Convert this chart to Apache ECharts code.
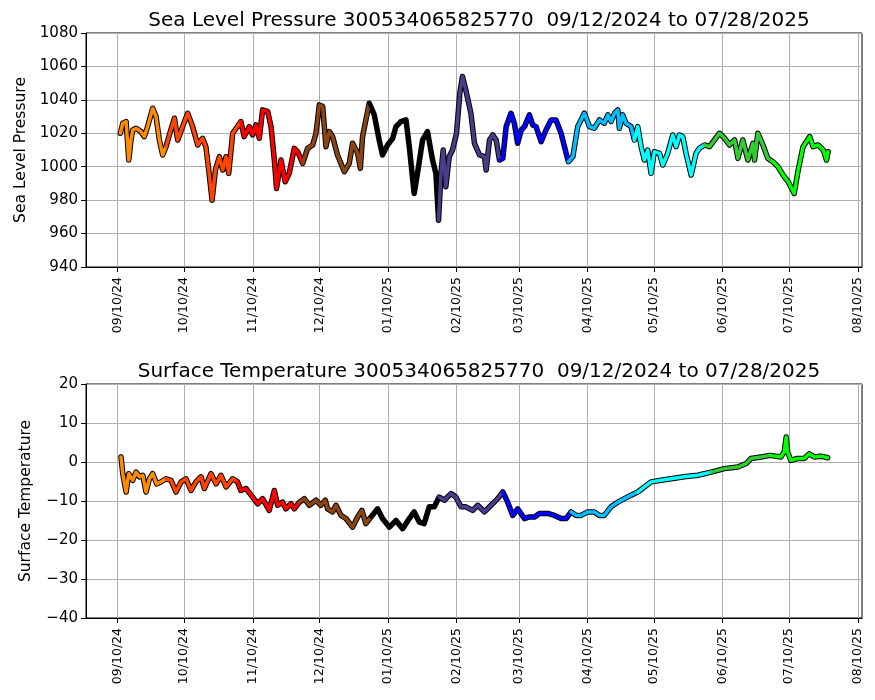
<!DOCTYPE html>
<html><head><meta charset="utf-8">
<script src="https://cdn.jsdelivr.net/npm/echarts@6/dist/echarts.min.js"></script>
<style>html,body{margin:0;padding:0;background:#fff}#c{width:875px;height:700px}</style>
</head><body><div id="c"></div>
<script>
// day offsets from 2024-09-10
const slpDays=[1.2,2.3,3.8,5.0,6.0,6.8,8.3,10.5,12.0,13.5,15.8,17.3,18.8,20.3,21.8,23.3,25.6,27.1,29.3,31.6,33.8,36.1,38.3,39.8,41.1,42.6,44.1,45.9,47.4,48.9,50.1,51.9,55.6,57.1,59.4,60.9,62.4,63.9,65.4,67.7,69.2,70.7,71.7,73.7,75.6,77.4,79.7,81.2,83.5,85.7,88.0,89.5,91.0,92.5,94.0,95.5,97.0,99.2,102.3,104.5,106.0,108.3,109.5,110.5,112.0,113.5,115.8,118.0,119.5,121.8,124.1,125.6,127.8,130.1,131.6,133.8,135.3,137.6,139.8,142.1,143.6,144.8,145.9,146.9,148.1,149.6,151.1,152.9,154.4,155.6,157.1,159.4,161.0,163.3,165.5,166.3,167.8,169.3,170.8,172.3,173.8,175.3,177.5,179.0,180.5,182.1,183.6,185.8,187.3,188.8,191.1,193.3,195.6,197.8,200.1,202.4,203.4,205.4,207.6,210.6,212.9,215.1,217.4,219.6,221.2,222.7,224.2,225.7,226.4,227.9,229.4,231.7,233.2,234.7,236.2,237.7,239.2,240.7,242.2,244.5,246.0,248.2,250.5,252.0,253.5,255.0,256.5,258.8,261.0,262.5,264.8,267.1,269.3,271.6,273.9,276.1,278.4,279.9,282.1,284.4,286.7,287.4,288.9,291.2,293.4,295.7,298.0,300.3,302.6,305.3,307.1,309.3,312.3,313.8,316.1,318.4,319.9,320.6];
const slpVals=[1020,1026,1027,1004,1016,1022,1023,1021,1018,1024,1035,1030,1016,1007,1012,1019,1029,1016,1024,1032,1024,1013,1017,1012,998,980,998,1006,998,1006,996,1020,1027,1018,1024,1019,1025,1017,1034,1033,1024,1004,987,1004,991,996,1011,1009,1002,1011,1013,1020,1037,1036,1012,1021,1018,1007,997,1002,1014,1008,999,1018,1028,1038,1031,1016,1007,1013,1017,1024,1027,1028,1012,984,996,1016,1021,1004,996,968,996,1010,988,1006,1010,1020,1044,1054,1046,1032,1014,1007,1006,998,1016,1019,1016,1004,1005,1024,1032,1026,1014,1022,1024,1031,1025,1024,1015,1022,1028,1028,1020,1008,1003,1006,1024,1032,1024,1023,1028,1026,1031,1027,1032,1034,1023,1031,1026,1024,1016,1024,1012,1004,1010,996,1009,1008,1001,1008,1019,1012,1019,1018,1008,995,1008,1011,1013,1012,1016,1020,1017,1013,1016,1005,1016,1004,1014,1004,1020,1013,1005,1003,1000,995,991,984,998,1012,1018,1012,1013,1010,1004,1009];
const tmpDays=[1.5,2.3,3.8,5.0,6.8,8.3,9.8,11.3,12.8,14.3,15.8,17.6,19.5,21.8,24.1,26.3,28.6,30.8,33.1,35.3,37.6,39.1,42.1,44.4,46.6,48.9,51.9,54.1,55.6,57.9,60.9,63.2,65.4,68.4,70.7,72.2,74.4,75.9,78.2,79.7,82.0,84.2,86.5,89.5,91.7,93.7,94.7,97.0,98.5,100.8,103.0,106.0,108.3,110.2,112.0,114.3,117.3,119.5,122.6,125.6,128.6,131.6,133.8,136.1,138.3,140.6,142.9,145.1,147.4,150.4,152.6,154.9,157.1,160.2,162.5,165.5,168.5,171.5,173.8,176.0,178.3,180.5,183.6,185.8,188.1,190.3,194.1,197.1,200.1,202.4,204.6,206.9,209.1,212.1,215.1,217.4,219.6,222.6,225.7,228.7,231.7,234.7,237.7,240.7,245.2,249.7,255.7,261.8,267.8,273.8,279.8,283.6,285.8,290.3,294.4,299.3,300.8,301.7,302.3,303.8,306.8,309.8,312.1,314.4,317.4,320.4];
const tmpVals=[1.3,-3,-7.7,-3,-4.7,-2.6,-3.8,-3.4,-7.7,-4.3,-3,-5.6,-5.1,-4.3,-4.7,-7.7,-5.1,-4.3,-7.3,-5.1,-3.8,-6.8,-3,-5.6,-3.4,-6.4,-4.3,-5.1,-7.3,-6.8,-9,-10.7,-9.4,-12.4,-7.3,-11.1,-10.3,-12,-10.7,-12,-10.3,-9.4,-11.1,-9.8,-11.1,-9.8,-12,-12.8,-11.1,-13.7,-14.5,-16.7,-14.1,-12.4,-15.8,-14.1,-12,-14.5,-16.7,-15,-17.1,-14.5,-12.8,-15.4,-15.8,-11.5,-11.5,-9,-9.8,-8.1,-9,-11.5,-11.5,-12.4,-11.1,-12.8,-11.1,-9.4,-7.7,-10.3,-13.7,-12,-14.5,-14.1,-14.1,-13.2,-13.2,-13.7,-14.5,-14.5,-12.8,-13.7,-13.7,-12.8,-12.8,-13.7,-13.7,-11.5,-10.3,-9.4,-8.5,-7.7,-6.4,-5.1,-4.7,-4.3,-3.8,-3.4,-2.6,-1.7,-1.3,-0.4,0.9,1.3,1.7,1.3,2.6,6.4,2.6,0.4,0.9,0.9,2.1,1.3,1.5,1.1];
const tickLabels=['09/10/24','10/10/24','11/10/24','12/10/24','01/10/25','02/10/25','03/10/25','04/10/25','05/10/25','06/10/25','07/10/25','08/10/25'];
const monthStarts=[21,52,82,113,144,172,203,233,264,294];
const monthColors=['#ff8c00','#ff4500','#ff0000','#8b4513','#000000','#483d8b','#0000ff','#00bfff','#00ffff','#32cd32','#00ff00'];
const base=Date.UTC(2024,8,10);
const tickDays=tickLabels.map(s=>{const [m,d,y]=s.split('/').map(Number);return (Date.UTC(2000+y,m-1,d)-base)/86400000;});
function monthIdx(d){let i=0;while(i<monthStarts.length&&d>=monthStarts[i])i++;return i;}
function build(days,vals,gi){
  const out=[{type:'line',xAxisIndex:gi,yAxisIndex:gi,data:days.map((d,i)=>[d,vals[i]]),symbol:'none',lineStyle:{color:'#000',width:5.5,join:'round',cap:'round'},z:1,animation:false}];
  for(let m=0;m<monthColors.length;m++){
    const pts=[];
    for(let i=0;i<days.length;i++){if(monthIdx(days[i])===m){pts.push([days[i],vals[i]]);}}
    if(!pts.length)continue;
    const last=days.findIndex(d=>monthIdx(d)>m);
    if(last>=0)pts.push([days[last],vals[last]]);
    out.push({type:'line',xAxisIndex:gi,yAxisIndex:gi,data:pts,symbol:'none',lineStyle:{color:monthColors[m],width:3.5,join:'round',cap:'round'},z:2,animation:false});
  }
  return out;
}
const font='DejaVu Sans';
function xAx(gi){return {type:'value',gridIndex:gi,min:-14.3,max:335.9,
  axisLine:{show:true,onZero:false,lineStyle:{color:'#000'}},
  axisTick:{show:true,customValues:tickDays,length:5,lineStyle:{color:'#000'}},
  axisLabel:{customValues:tickDays,rotate:90,fontFamily:font,fontSize:12.5,color:'#000',margin:10,formatter:v=>{const i=tickDays.findIndex(t=>Math.abs(t-v)<0.01);return i>=0?tickLabels[i]:'';}},
  splitLine:{show:true,lineStyle:{color:'#b0b0b0',width:1}}};}
function yAx(gi,min,max,iv,name){return {type:'value',gridIndex:gi,min,max,interval:iv,name,nameLocation:'middle',nameGap:gi?52:57,
  nameTextStyle:{fontFamily:font,fontSize:15.5,color:'#000'},
  axisLine:{show:true,onZero:false,lineStyle:{color:'#000'}},axisTick:{show:true,length:5,lineStyle:{color:'#000'}},
  axisLabel:{fontFamily:font,fontSize:15,color:'#000',formatter:v=>String(v).replace('-','\u2212')},splitLine:{show:true,lineStyle:{color:'#b0b0b0',width:1}}};}
const chart=echarts.init(document.getElementById('c'));
chart.setOption({
  backgroundColor:'#fff',
  title:[{text:'Sea Level Pressure 300534065825770  09/12/2024 to 07/28/2025',left:474,top:6,textAlign:'center',textStyle:{fontFamily:font,fontSize:20,fontWeight:'normal',color:'#000'}},
         {text:'Surface Temperature 300534065825770  09/12/2024 to 07/28/2025',left:474,top:357,textAlign:'center',textStyle:{fontFamily:font,fontSize:20,fontWeight:'normal',color:'#000'}}],
  grid:[{left:86,right:13,top:33,height:234,show:true,borderColor:'#000',borderWidth:1},
        {left:86,right:13,top:384,height:234,show:true,borderColor:'#000',borderWidth:1}],
  xAxis:[xAx(0),xAx(1)],
  yAxis:[yAx(0,940,1080,20,'Sea Level Pressure'),yAx(1,-40,20,10,'Surface Temperature')],
  series:[...build(slpDays,slpVals,0),...build(tmpDays,tmpVals,1)]
});
</script></body></html>
